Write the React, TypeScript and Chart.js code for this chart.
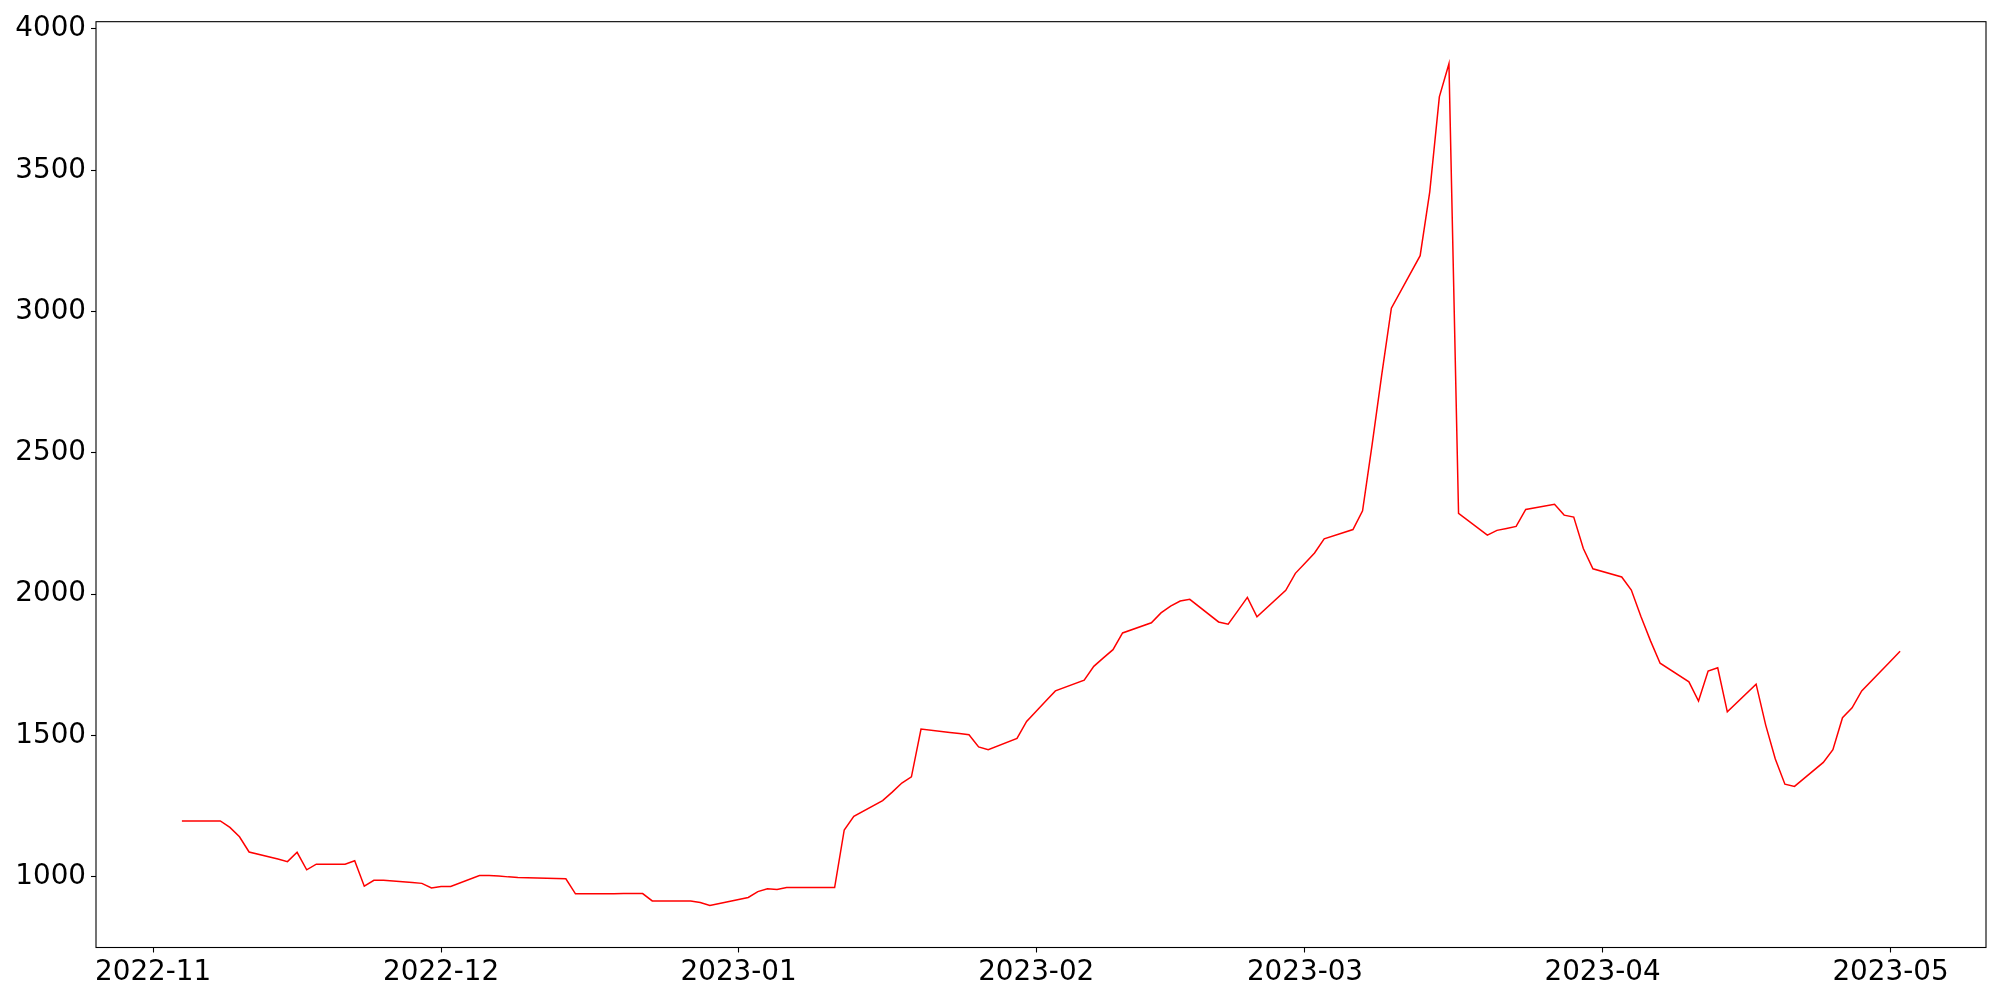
import React, { useEffect, useRef } from "react";
import { Chart, registerables } from "chart.js";

Chart.register(...registerables);

const dates: string[] = [
  "2022-11-04", "2022-11-07", "2022-11-08", "2022-11-09", "2022-11-10", "2022-11-11",
  "2022-11-14", "2022-11-15", "2022-11-16", "2022-11-17", "2022-11-18",
  "2022-11-21", "2022-11-22", "2022-11-23", "2022-11-24", "2022-11-25",
  "2022-11-28", "2022-11-29", "2022-11-30", "2022-12-01", "2022-12-02",
  "2022-12-05", "2022-12-06", "2022-12-07", "2022-12-08", "2022-12-09",
  "2022-12-12", "2022-12-13", "2022-12-14", "2022-12-15", "2022-12-16",
  "2022-12-19", "2022-12-20", "2022-12-21", "2022-12-22", "2022-12-23",
  "2022-12-26", "2022-12-27", "2022-12-28", "2022-12-29", "2022-12-30",
  "2023-01-02", "2023-01-03", "2023-01-04", "2023-01-05", "2023-01-06",
  "2023-01-09", "2023-01-10", "2023-01-11", "2023-01-12", "2023-01-13",
  "2023-01-16", "2023-01-17", "2023-01-18", "2023-01-19", "2023-01-20",
  "2023-01-23", "2023-01-24", "2023-01-25", "2023-01-26", "2023-01-27",
  "2023-01-30", "2023-01-31", "2023-02-01", "2023-02-02", "2023-02-03",
  "2023-02-06", "2023-02-07", "2023-02-08", "2023-02-09", "2023-02-10",
  "2023-02-13", "2023-02-14", "2023-02-15", "2023-02-16", "2023-02-17",
  "2023-02-20", "2023-02-21", "2023-02-22", "2023-02-23", "2023-02-24",
  "2023-02-27", "2023-02-28", "2023-03-01", "2023-03-02", "2023-03-03",
  "2023-03-06", "2023-03-07", "2023-03-08", "2023-03-09", "2023-03-10",
  "2023-03-13", "2023-03-14", "2023-03-15", "2023-03-16", "2023-03-17",
  "2023-03-20", "2023-03-21", "2023-03-22", "2023-03-23", "2023-03-24",
  "2023-03-27", "2023-03-28", "2023-03-29", "2023-03-30", "2023-03-31",
  "2023-04-03", "2023-04-04", "2023-04-05", "2023-04-06", "2023-04-07",
  "2023-04-10", "2023-04-11", "2023-04-12", "2023-04-13", "2023-04-14",
  "2023-04-17", "2023-04-18", "2023-04-19", "2023-04-20", "2023-04-21",
  "2023-04-24", "2023-04-25", "2023-04-26", "2023-04-27", "2023-04-28",
  "2023-05-01", "2023-05-02",
];

const prices: number[] = [
  1198, 1198, 1198, 1175, 1142, 1088,
  1063, 1054, 1087, 1025, 1045,
  1045, 1057, 967, 988, 988,
  980, 977, 961, 966, 966,
  1005, 1005, 1003, 1000, 998,
  995, 994, 993, 940, 940,
  940, 941, 941, 941, 915,
  915, 915, 909, 899, 906,
  927, 948, 958, 955, 962,
  962, 962, 962, 1166, 1214,
  1270, 1300, 1332, 1354, 1523,
  1511, 1507, 1503, 1460, 1450,
  1490, 1550, 1586, 1622, 1658,
  1696, 1745, 1775, 1804, 1863,
  1899, 1934, 1958, 1976, 1982,
  1902, 1894, 1941, 1989, 1920,
  2014, 2074, 2110, 2146, 2196,
  2229, 2295, 2530, 2777, 3012,
  3198, 3424, 3760, 3877, 2286,
  2209, 2226, 2233, 2240, 2300,
  2318, 2280, 2273, 2162, 2090,
  2061, 2015, 1921, 1835, 1756,
  1690, 1622, 1728, 1740, 1584,
  1682, 1537, 1417, 1328, 1320,
  1405, 1450, 1563, 1598, 1658,
  1763, 1798,
];

const monthTicks: string[] = [
  "2022-11-01", "2022-12-01", "2023-01-01", "2023-02-01",
  "2023-03-01", "2023-04-01", "2023-05-01",
];

const yTicks: number[] = [1000, 1500, 2000, 2500, 3000, 3500, 4000];

const toMs = (s: string): number => {
  const [y, m, d] = s.split("-").map(Number);
  return Date.UTC(y, m - 1, d);
};

const fmtMonth = (v: number): string => {
  const d = new Date(v);
  return `${d.getUTCFullYear()}-${String(d.getUTCMonth() + 1).padStart(2, "0")}`;
};

export default function App() {
  const ref = useRef<HTMLCanvasElement | null>(null);

  useEffect(() => {
    if (!ref.current) return;
    const xs = dates.map(toMs);
    const xMin0 = Math.min(...xs);
    const xMax0 = Math.max(...xs);
    const xPad = (xMax0 - xMin0) * 0.05;
    const yMin0 = Math.min(...prices);
    const yMax0 = Math.max(...prices);
    const yPad = (yMax0 - yMin0) * 0.05;

    const frame = {
      id: "frame",
      afterDraw(chart: any) {
        const { ctx, chartArea: a } = chart;
        ctx.save();
        ctx.strokeStyle = "#000";
        ctx.lineWidth = 1.1;
        ctx.strokeRect(a.left, a.top, a.right - a.left, a.bottom - a.top);
        ctx.restore();
      },
    };

    const tickFont = { family: "'DejaVu Sans', sans-serif", size: 27.8 };

    const chart = new Chart(ref.current, {
      type: "line",
      data: {
        datasets: [
          {
            data: xs.map((x, i) => ({ x, y: prices[i] })),
            borderColor: "#ff0000",
            borderWidth: 1.5,
            pointRadius: 0,
            tension: 0,
            fill: false,
          },
        ],
      },
      options: {
        animation: false,
        responsive: false,
        devicePixelRatio: 1,
        layout: { padding: { top: 19, right: 14, left: 0, bottom: 0 } },
        plugins: { legend: { display: false }, tooltip: { enabled: false } },
        scales: {
          x: {
            type: "linear",
            min: xMin0 - xPad,
            max: xMax0 + xPad,
            afterBuildTicks: (s: any) => {
              s.ticks = monthTicks.map((m) => ({ value: toMs(m) }));
            },
            afterFit: (s: any) => {
              s.height = 52.5;
            },
            grid: {
              display: true,
              drawOnChartArea: false,
              drawTicks: true,
              tickLength: 5,
              tickWidth: 1.1,
              tickColor: "#000",
            },
            border: { display: false },
            ticks: {
              autoSkip: false,
              maxRotation: 0,
              minRotation: 0,
              padding: 4,
              color: "#000",
              font: tickFont,
              callback: (v: any) => fmtMonth(Number(v)),
            },
          },
          y: {
            type: "linear",
            min: yMin0 - yPad,
            max: yMax0 + yPad,
            afterBuildTicks: (s: any) => {
              s.ticks = yTicks.map((v) => ({ value: v }));
            },
            afterFit: (s: any) => {
              s.width = 96;
            },
            grid: {
              display: true,
              drawOnChartArea: false,
              drawTicks: true,
              tickLength: 5,
              tickWidth: 1.1,
              tickColor: "#000",
            },
            border: { display: false },
            ticks: {
              autoSkip: false,
              padding: 5,
              color: "#000",
              font: tickFont,
              callback: (v: any) => String(v),
            },
          },
        },
      },
      plugins: [frame],
    } as any);

    return () => chart.destroy();
  }, []);

  return (
    <div
      style={{
        position: "absolute",
        left: 0,
        top: 0,
        width: 2000,
        height: 1000,
        background: "#fff",
      }}
    >
      <canvas ref={ref} width={2000} height={1000} style={{ display: "block" }} />
    </div>
  );
}
